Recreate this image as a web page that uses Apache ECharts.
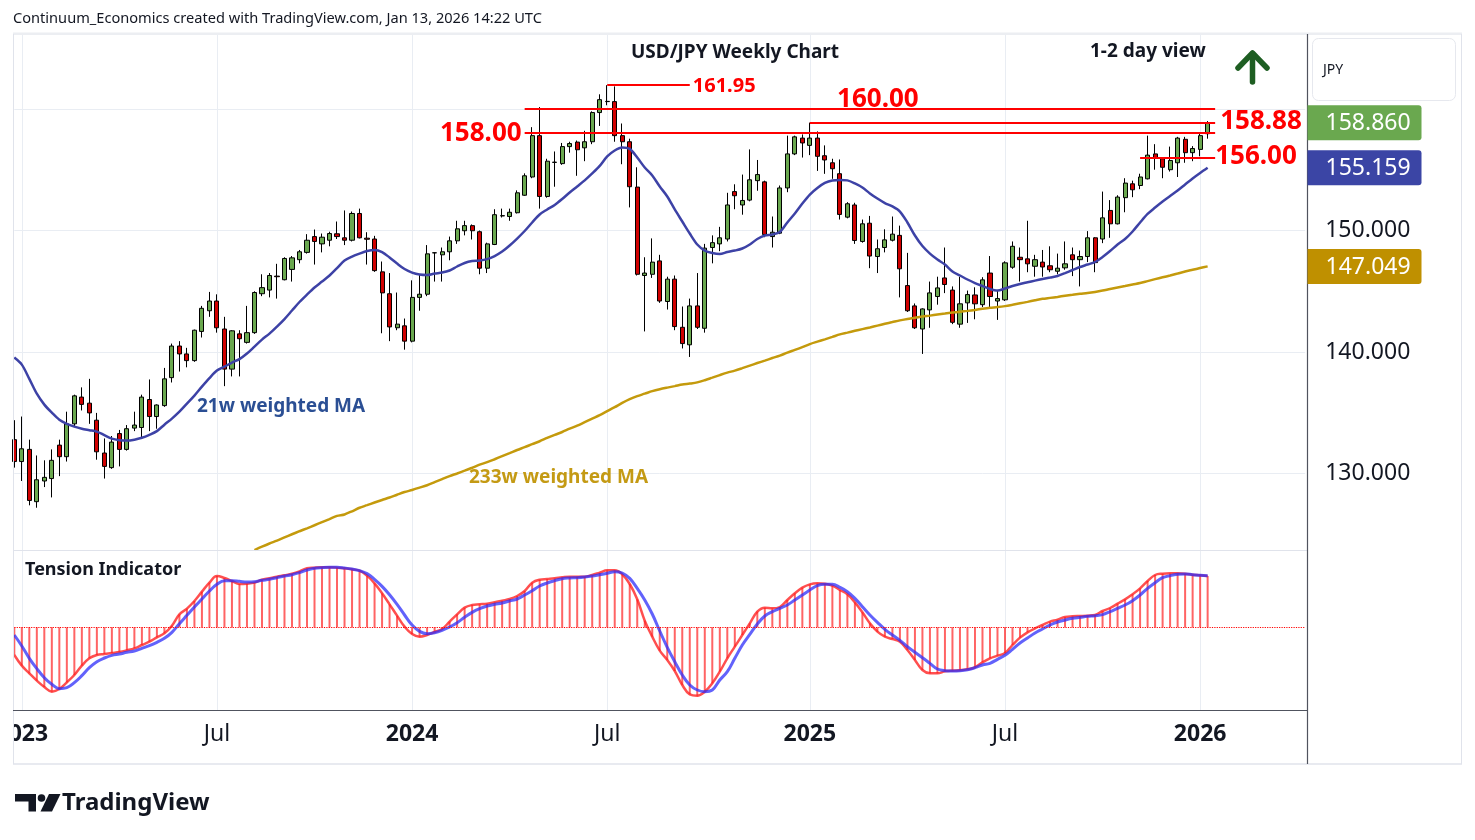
<!DOCTYPE html>
<html><head><meta charset="utf-8">
<script src="https://cdn.jsdelivr.net/npm/echarts@6/dist/echarts.min.js"></script>
<style>html,body{margin:0;padding:0;background:#fff;}#c{width:1475px;height:840px;}</style>
</head><body><div id="c"></div>
<script>
const FONT = '"Noto Sans", "DejaVu Sans", sans-serif';

// ---- weekly categories (Monday dates), first bar 2022-12-26, blank slots after last bar ----
const firstWeek = '2022-12-26';
const totalSlots = 173;

// ---- OHLC (USD/JPY weekly) ----
const opens = [132.8,131.0,132.0,127.7,129.4,129.6,132.35,131.4,134.1,136.3,
135.8,134.4,131.7,130.5,133.3,132.0,133.75,133.8,136.1,134.7,
135.6,137.9,140.5,139.85,139.3,141.7,143.4,144.2,141.9,138.6,
141.5,140.8,141.6,144.8,145.1,146.25,145.95,146.8,147.6,148.2,
149.5,148.9,149.2,149.73,149.4,149.2,151.4,149.37,149.3,146.6,
144.8,142.0,142.16,140.9,144.5,144.76,148.16,148.0,148.25,149.15,
149.98,150.4,149.9,146.9,148.85,151.2,151.15,151.46,152.9,154.4,
157.8,152.8,155.6,155.5,156.9,157.27,156.8,157.3,159.7,160.6,
160.6,157.8,157.3,153.57,146.3,146.4,147.5,144.16,146.0,142.04,
140.6,143.8,141.96,148.6,148.9,149.3,153.2,152.1,152.5,154.1,
154.0,149.5,149.78,153.5,156.3,157.6,157.0,157.6,156.15,155.57,
154.67,151.1,152.1,149.1,150.6,147.86,148.6,149.2,149.6,145.47,
143.8,141.9,143.47,144.57,146.1,145.1,142.3,144.05,144.7,143.9,
146.5,144.2,144.3,146.98,147.8,147.67,147.06,147.4,147.1,146.65,
146.93,148.0,147.6,147.86,149.4,149.3,151.65,150.55,152.7,153.84,
153.7,154.25,156.3,155.9,155.0,155.57,157.5,156.4,156.67,157.96];
const closes = [131.0,132.05,127.8,129.5,129.7,131.1,131.4,134.1,136.4,135.7,
135.0,131.8,130.6,132.6,132.0,133.7,134.0,136.3,134.7,135.65,
137.8,140.5,139.85,139.3,141.8,143.6,144.2,142.0,138.6,141.75,
141.1,141.6,144.9,145.3,146.3,146.2,147.7,147.75,148.25,149.2,
149.1,149.45,149.75,149.5,149.2,151.4,149.4,149.28,146.7,144.87,
142.07,142.3,140.9,144.5,144.76,148.08,148.17,148.25,149.15,150.14,
150.4,149.98,146.9,148.9,151.3,151.22,151.5,153.1,154.5,157.8,
152.8,155.7,155.62,156.9,157.15,156.64,157.3,159.7,160.76,160.62,
157.8,157.3,153.6,146.4,146.5,147.4,144.2,146.0,142.1,140.7,
143.8,142.04,148.55,149.0,149.4,152.1,152.86,152.47,154.17,154.6,
149.67,149.86,153.5,156.3,157.7,157.2,157.6,156.1,155.8,155.08,
151.32,152.2,149.18,150.55,147.9,148.5,149.23,149.7,146.85,143.4,
142.0,143.55,144.87,145.28,145.56,142.45,143.97,144.73,143.97,145.94,
144.57,144.4,147.34,148.7,147.6,147.26,147.6,147.0,146.77,146.9,
147.26,147.6,147.86,149.4,147.36,151.04,150.55,152.75,153.9,153.35,
154.4,156.2,156.0,155.2,155.76,157.6,156.4,156.74,157.8,158.86];
const lows = [130.5,129.4,127.4,127.2,128.9,128.05,129.8,131.0,133.9,135.2,
134.1,131.15,129.6,130.4,130.6,131.9,133.5,133.0,133.5,133.7,
135.5,137.5,138.4,138.75,139.2,141.2,142.9,141.6,137.2,138.0,
138.0,140.7,141.5,144.6,144.5,144.4,145.9,145.8,147.3,148.1,
147.2,148.2,148.7,149.3,148.8,149.1,149.35,147.2,146.6,141.55,
140.9,141.8,140.2,140.8,143.4,144.6,145.8,145.8,147.55,148.9,
149.6,149.26,146.4,146.5,148.8,151.07,150.8,151.4,152.85,154.3,
151.8,152.7,153.6,155.4,156.4,154.5,155.7,157.1,158.6,160.3,
157.3,155.45,151.9,146.3,141.7,146.1,144.05,143.5,141.8,140.3,
139.6,141.9,141.6,147.3,148.3,149.1,151.75,151.3,152.4,153.27,
149.45,148.6,149.7,153.15,156.2,156.0,156.2,154.9,154.66,154.25,
150.9,151.0,148.9,149.0,146.9,146.5,148.2,149.1,144.5,143.3,
141.9,139.85,142.0,143.9,144.85,142.3,142.0,142.4,142.7,143.7,
143.7,142.65,144.2,146.85,145.8,146.57,146.2,146.2,146.57,146.4,
146.77,146.25,145.4,147.4,146.57,148.96,149.4,150.5,151.5,152.74,
153.4,154.2,155.0,154.3,154.85,154.4,155.57,155.7,156.1,157.55];
const highs = [134.4,134.7,132.8,131.5,131.1,132.0,132.8,135.1,136.5,137.1,
137.8,135.0,132.9,133.1,133.6,134.0,135.1,136.5,137.75,135.7,
138.7,140.7,140.9,140.35,141.85,143.8,144.95,144.75,142.9,141.8,
141.8,143.8,145.0,146.4,146.5,147.26,147.8,147.9,148.4,149.7,
150.08,149.75,149.9,150.74,151.65,151.56,151.8,149.86,149.56,147.45,
146.5,144.9,142.76,145.9,146.4,148.8,148.2,148.6,149.5,150.8,
150.8,150.5,150.0,149.0,151.75,151.8,151.8,153.3,154.7,158.5,
160.15,155.9,156.5,157.2,157.3,157.4,158.2,159.8,161.2,161.95,
161.85,158.8,157.55,155.2,147.8,149.35,148.0,146.2,146.3,143.75,
144.4,146.5,148.9,149.6,150.3,153.1,153.8,154.6,156.67,155.8,
154.1,151.15,153.7,157.8,157.8,157.9,158.87,158.15,157.0,155.9,
155.84,152.33,152.28,150.9,151.2,149.26,150.1,151.15,150.4,148.16,
144.0,143.6,145.8,146.2,148.6,145.4,146.2,145.06,145.33,146.16,
147.9,145.06,147.47,149.1,148.6,150.8,148.0,148.4,148.7,148.1,
149.1,148.6,148.35,149.95,149.45,153.2,152.5,152.9,154.3,154.1,
154.67,157.8,157.1,156.0,156.9,157.7,157.7,156.94,158.1,159.0];

// ---- 21w weighted MA (read per bar) ----
const ma21 = [139.55,138.97,137.8,136.58,135.68,135.02,134.44,134.1,133.87,133.7,
133.58,133.46,133.17,132.88,132.76,132.72,132.8,132.96,133.2,133.5,
134.03,134.53,135.1,135.76,136.42,137.16,137.86,138.48,138.8,139.14,
139.42,139.88,140.45,141.03,141.52,142.1,142.72,143.42,144.12,144.73,
145.31,145.8,146.3,146.91,147.53,147.86,148.1,148.31,148.4,148.23,
147.78,147.28,146.83,146.54,146.38,146.34,146.46,146.54,146.71,147.04,
147.33,147.49,147.53,147.65,147.9,148.27,148.77,149.34,149.96,150.66,
151.32,151.73,152.1,152.59,153.13,153.62,154.12,154.69,155.31,156.09,
156.58,156.83,156.71,156.0,155.18,154.53,153.62,152.8,151.73,150.74,
149.75,148.85,148.35,148.15,148.07,148.23,148.35,148.52,148.85,149.3,
149.59,149.67,149.88,150.66,151.4,152.22,152.96,153.5,153.91,154.12,
154.16,154.12,153.87,153.54,153.05,152.63,152.26,151.98,151.56,150.66,
149.59,148.72,148.1,147.61,147.2,146.63,146.3,145.97,145.68,145.43,
145.19,145.06,145.23,145.43,145.6,145.74,145.88,146.01,146.13,146.26,
146.5,146.75,147.0,147.2,147.41,147.82,148.31,148.85,149.3,149.92,
150.66,151.36,151.89,152.39,152.84,153.29,153.79,154.28,154.73,155.159];

// ---- 233w weighted MA (visible from bar 32) ----
const ma233Start = 32;
const ma233Values = [123.72,124.0,124.26,124.49,124.76,125.02,125.27,125.51,
125.76,126.02,126.27,126.53,126.65,126.91,127.2,127.41,127.63,127.84,
128.04,128.27,128.49,128.66,128.85,129.05,129.3,129.55,129.8,130.02,
130.25,130.49,130.74,130.95,131.19,131.44,131.69,131.95,132.18,132.43,
132.67,132.94,133.19,133.43,133.7,133.95,134.24,134.53,134.81,135.14,
135.47,135.82,136.13,136.38,136.58,136.79,136.95,137.08,137.2,137.33,
137.41,137.51,137.69,137.9,138.11,138.31,138.48,138.68,138.89,139.1,
139.3,139.51,139.71,139.96,140.18,140.41,140.66,140.86,141.05,141.25,
141.46,141.6,141.75,141.89,142.03,142.18,142.33,142.47,142.61,142.73,
142.82,142.92,143.0,143.09,143.17,143.25,143.32,143.39,143.47,143.56,
143.64,143.7,143.78,143.89,144.01,144.13,144.26,144.38,144.46,144.54,
144.63,144.71,144.79,144.86,144.95,145.06,145.19,145.31,145.43,145.56,
145.68,145.84,146.0,146.15,146.3,146.46,146.63,146.77,146.91,147.049];

// ---- Tension indicator (main line + signal), arbitrary units ----
const tension = [-83,-115,-138,-160,-179,-193,-185,-165,-143,-115,
-93,-83,-80,-77,-74,-69,-63,-53,-43,-30,
-18,5,39,56,79,107,134,154,148,139,
130,131,134,143,147,152,156,161,168,177,
179,180,180,179,177,174,170,155,132,102,
69,35,2,-20,-28,-23,-14,-5,17,39,
59,67,69,71,75,80,85,94,109,134,
143,145,147,150,152,152,152,157,164,171,
171,159,130,84,20,-28,-70,-98,-131,-173,
-201,-205,-193,-168,-133,-93,-58,-23,12,47,
59,57,61,82,102,119,129,132,131,125,
112,99,75,45,12,-13,-28,-35,-43,-68,
-98,-128,-138,-138,-132,-130,-129,-126,-120,-105,
-93,-85,-77,-53,-31,-15,-3,7,17,23,
31,33,34,35,37,49,58,71,84,99,
117,139,157,161,162,162,161,158,156,154];
const tensionSignal = [-23,-56,-93,-124,-151,-171,-184,-181,-166,-145,
-121,-103,-92,-84,-80,-75,-71,-63,-55,-45,
-33,-15,11,36,61,85,109,129,140,140,
138,136,137,141,144,149,154,158,164,172,
177,179,180,180,178,175,170,161,144,123,
98,69,37,7,-12,-19,-16,-9,1,14,
30,45,56,64,69,73,79,85,97,110,
124,133,140,146,148,149,151,154,158,162,
167,163,147,117,82,40,-11,-60,-103,-143,
-173,-188,-193,-188,-158,-133,-93,-53,-21,10,
34,47,57,67,82,97,112,125,129,129,
120,107,87,62,37,15,-6,-23,-39,-58,
-75,-91,-108,-125,-130,-131,-130,-127,-121,-113,
-108,-96,-84,-66,-47,-32,-17,-5,7,16,
22,27,30,33,35,38,47,57,67,80,
97,117,134,149,155,159,160,158,156,155];

// ---- time axis labels (bar index -> text) ----
const timeLabelIdx = [1,27,53,79,106,132,158];
const timeLabelText = ['2023','Jul','2024','Jul','2025','Jul','2026'];
const timeLabelBold = [true,false,true,false,true,false,true];

// ---- price axis: visible range and labelled ticks ----
const priceMin = 123.725, priceMax = 166.16;
const priceTicks = [130,140,150];

// ---- horizontal levels: [value, fromBar, toBar, label] ----
const levelValues = [161.95,160.00,158.00,158.88,156.00];
const levelFrom = [79,68,68,106,150];
const levelTo = [90,160,160,160,160];
const levelText = ['161.95','160.00','158.00','158.88','156.00'];

// categories
const cats = [];
{
  const d0 = new Date(firstWeek + 'T00:00:00Z');
  for (let i = 0; i < totalSlots; i++) {
    const d = new Date(d0.getTime() + i * 7 * 86400000);
    cats.push(d.toISOString().slice(0, 10));
  }
}
const candles = opens.map((o, i) => [o, closes[i], lows[i], highs[i]]);
const ma233 = cats.slice(0, opens.length).map((c, i) => i < ma233Start ? null : ma233Values[i - ma233Start]);

const levelLabelCfg = [
  {position:'end', fontSize:20, distance:3, offset:[0,1]},
  {position:'insideMiddleTop', fontSize:26, distance:1, offset:[8,5]},
  {position:'start', fontSize:26, distance:3, offset:[0,0]},
  {position:'end', fontSize:26, distance:5, offset:[0,-1]},
  {position:'end', fontSize:26, distance:0, offset:[0,-1]}
];
const markLines = levelValues.map((v, k) => [
  {coord:[cats[levelFrom[k]], v], label:{show:true, formatter:levelText[k], color:'#ff0000',
    fontWeight:'bold', fontFamily:FONT, fontSize:levelLabelCfg[k].fontSize,
    position:levelLabelCfg[k].position, distance:levelLabelCfg[k].distance, offset:levelLabelCfg[k].offset}},
  {coord:[cats[levelTo[k]], v]}
]);

const GRID_LEFT = 14.3, GRID_W = 1290.9;
const chart = echarts.init(document.getElementById('c'), null, {renderer:'canvas'});
chart.setOption({
  animation:false,
  backgroundColor:'#ffffff',
  textStyle:{fontFamily:FONT},
  grid:[
    {left:GRID_LEFT, width:GRID_W, top:34, height:516, outerBoundsMode:'none', containLabel:false},
    {left:GRID_LEFT, width:GRID_W, top:34, height:676, outerBoundsMode:'none', containLabel:false}
  ],
  xAxis:[
    {type:'category', gridIndex:0, data:cats, boundaryGap:false, show:false},
    {type:'category', gridIndex:1, data:cats, boundaryGap:false,
      axisLine:{show:false}, axisTick:{show:false},
      axisLabel:{show:true, margin:13, fontSize:23, color:'#131722', hideOverlap:false,
        interval:(i)=>timeLabelIdx.includes(i),
        formatter:(val, i)=>{const k = timeLabelIdx.indexOf(i); if (k < 0) return '';
          return (timeLabelBold[k] ? '{b|' : '{m|') + timeLabelText[k] + '}';},
        rich:{b:{fontWeight:'bold', fontSize:23, color:'#131722', fontFamily:FONT},
              m:{fontWeight:'normal', fontSize:23, color:'#131722', fontFamily:FONT}}},
      splitLine:{show:true, interval:(i)=>timeLabelIdx.includes(i), lineStyle:{color:'#e9edf3', width:1}}}
  ],
  yAxis:[
    {type:'value', gridIndex:0, position:'right', min:priceMin, max:priceMax, splitNumber:4,
      axisLine:{show:false}, axisTick:{show:false},
      axisLabel:{margin:20, fontSize:23, color:'#131722', showMinLabel:false, showMaxLabel:false,
        formatter:(v)=>{const r = Math.round(v*1000)/1000; return priceTicks.includes(r) ? r.toFixed(3) : '';}},
      splitLine:{show:true, lineStyle:{color:'#e9edf3', width:1}}},
    {type:'value', gridIndex:1, min:-248, max:1780, show:false}
  ],
  series:[
    {type:'bar', xAxisIndex:1, yAxisIndex:1, data:tension, barWidth:2, silent:true,
      itemStyle:{color:'rgba(255,40,40,0.72)'},
      markLine:{silent:true, symbol:['none','none'], label:{show:false},
        lineStyle:{color:'#ff0000', type:'dotted', width:1.2}, data:[{yAxis:0}]}},
    {type:'line', xAxisIndex:1, yAxisIndex:1, data:tension, symbol:'none', smooth:0.4, silent:true,
      lineStyle:{color:'rgba(255,30,30,0.78)', width:2.5}},
    {type:'line', xAxisIndex:1, yAxisIndex:1, data:tensionSignal, symbol:'none', smooth:0.4, silent:true,
      lineStyle:{color:'rgba(45,45,250,0.75)', width:3}},
    {type:'line', xAxisIndex:0, yAxisIndex:0, data:ma233, symbol:'none', smooth:0.3, silent:true,
      lineStyle:{color:'#c49a0c', width:2.5}},
    {type:'line', xAxisIndex:0, yAxisIndex:0, data:ma21, symbol:'none', smooth:0.3, silent:true,
      lineStyle:{color:'#3d42a6', width:2.5}},
    {type:'candlestick', xAxisIndex:0, yAxisIndex:0, data:candles, barWidth:4.6, silent:true,
      itemStyle:{color:'#6aa84f', color0:'#d00000', borderColor:'#000000', borderColor0:'#000000',
        borderColorDoji:'#000000', borderWidth:1},
      markLine:{silent:true, symbol:['none','none'], lineStyle:{color:'#ff0000', width:2, type:'solid'},
        data:markLines}}
  ]
});

// ---- overlays (text, frame, price tags) ----
const yOf = (v) => chart.convertToPixel({yAxisIndex:0}, v);
const tags = [
  {v:closes[closes.length-1], c:'#6aa84f'},
  {v:ma21[ma21.length-1], c:'#3b45a5'},
  {v:ma233Values[ma233Values.length-1], c:'#bf9000'}
];
const G = [];
const line = (x1,y1,x2,y2,stroke,w) => ({type:'line', silent:true, z:50,
  shape:{x1,y1,x2,y2}, style:{stroke, lineWidth:w}});
// frame
G.push({type:'rect', silent:true, z:50, shape:{x:13, y:32.5, width:1449, height:2.5}, style:{fill:'#eceef2'}});
G.push(line(13.5,34,13.5,764,'#e0e3eb',1));
G.push(line(1461.5,34,1461.5,764,'#e0e3eb',1));
G.push(line(13,764,1462,764,'#e0e3eb',1.5));
G.push(line(13,550.5,1307,550.5,'#e0e3eb',1));
G.push(line(13,710.5,1307.5,710.5,'#50535e',1.2));
G.push(line(1307.5,34,1307.5,764,'#50535e',1.2));
G.push({type:'rect', silent:true, z:60, shape:{x:0, y:712, width:13, height:50}, style:{fill:'#ffffff'}});
// JPY box
G.push({type:'rect', silent:true, z:50, shape:{x:1312.5, y:38.5, width:143, height:62, r:6},
  style:{fill:'#ffffff', stroke:'#e6e8ee', lineWidth:1}});
G.push({type:'text', silent:true, z:51, x:1323, y:70, style:{text:'JPY', font:'14px '+FONT, fill:'#131722', textVerticalAlign:'middle'}});
// price tags
tags.forEach(t => {
  const yc = yOf(t.v);
  G.push({type:'rect', silent:true, z:52, shape:{x:1307.5, y:yc-17.5, width:114, height:35, r:[0,3,3,0]}, style:{fill:t.c}});
  G.push({type:'text', silent:true, z:53, x:1325.5, y:yc+1, style:{text:t.v.toFixed(3), font:'23px '+FONT, fill:'#ffffff', textVerticalAlign:'middle'}});
});
// header texts
G.push({type:'text', silent:true, z:55, x:13, y:19, style:{text:'Continuum_Economics created with TradingView.com, Jan 13, 2026 14:22 UTC', font:'14.6px '+FONT, fill:'#131722', textVerticalAlign:'middle'}});
G.push({type:'text', silent:true, z:55, x:735, y:53, style:{text:'USD/JPY Weekly Chart', font:'bold 19px '+FONT, fill:'#131722', textAlign:'center', textVerticalAlign:'middle'}});
G.push({type:'text', silent:true, z:55, x:1090, y:52, style:{text:'1-2 day view', font:'bold 19px '+FONT, fill:'#131722', textVerticalAlign:'middle'}});
// arrow
G.push({type:'polyline', silent:true, z:55, shape:{points:[[1238,68],[1252.5,53],[1267,68]]}, style:{stroke:'#1e5e22', lineWidth:5.5, lineCap:'round', lineJoin:'round', fill:null}});
G.push({type:'line', silent:true, z:55, shape:{x1:1252.5,y1:54,x2:1252.5,y2:82}, style:{stroke:'#1e5e22', lineWidth:5.5, lineCap:'round'}});
// MA labels
G.push({type:'text', silent:true, z:55, x:197, y:407, style:{text:'21w weighted MA', font:'bold 19px '+FONT, fill:'#2b4f94', textVerticalAlign:'middle'}});
G.push({type:'text', silent:true, z:55, x:469, y:478, style:{text:'233w weighted MA', font:'bold 19px '+FONT, fill:'#c49a14', textVerticalAlign:'middle'}});
G.push({type:'text', silent:true, z:55, x:25, y:570, style:{text:'Tension Indicator', font:'bold 18px '+FONT, fill:'#131722', textVerticalAlign:'middle'}});
// TradingView logo
G.push({type:'polygon', silent:true, z:55, shape:{points:[[15,794],[36,794],[36,811.5],[28.5,811.5],[28.5,801.5],[15,801.5]]}, style:{fill:'#131722'}});
G.push({type:'circle', silent:true, z:55, shape:{cx:41.5, cy:798, r:3.8}, style:{fill:'#131722'}});
G.push({type:'polygon', silent:true, z:55, shape:{points:[[49,794],[60.5,794],[52,811.5],[40.5,811.5]]}, style:{fill:'#131722'}});
G.push({type:'text', silent:true, z:55, x:62, y:803, style:{text:'TradingView', font:'bold 24px '+FONT, fill:'#131722', textVerticalAlign:'middle'}});

chart.setOption({graphic:G});
</script></body></html>
